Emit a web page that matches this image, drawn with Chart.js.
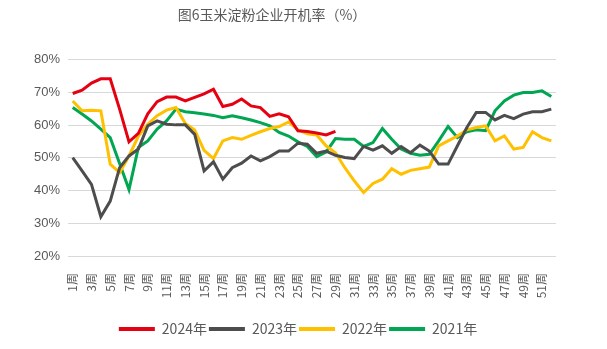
<!DOCTYPE html>
<html><head><meta charset="utf-8">
<script src="https://cdn.jsdelivr.net/npm/chart.js@4/dist/chart.umd.min.js"></script>
<style>html,body{margin:0;padding:0;background:#fff}#wrap{width:607px;height:349px}</style>
</head><body><div id="wrap"><canvas id="c" width="607" height="349"></canvas></div>
<script>
const weeks = Array.from({length:52},(_,i)=>(i+1)+'周');
const s2024 = [69.7,70.7,72.9,74.2,74.2,64.9,54.9,57.5,63.5,67.2,68.6,68.6,67.4,68.5,69.6,71.0,65.7,66.4,68.0,65.9,65.4,62.7,63.5,62.6,58.3,58.1,57.6,57.0,58.1];
const s2023 = [50.1,46.0,41.9,32.0,36.8,47.0,50.6,52.7,59.8,61.3,60.3,60.1,60.1,57.2,46.0,48.8,43.5,47.0,48.4,50.6,49.1,50.4,52.1,52.1,54.5,54.2,51.4,52.1,50.8,50.1,49.8,53.5,52.4,53.7,51.4,53.5,51.6,53.9,52.1,48.1,48.1,53.7,59.3,63.9,63.9,61.6,63.0,62.0,63.4,64.1,64.1,64.9];
const s2022 = [67.4,64.4,64.6,64.4,48.1,45.5,50.6,56.7,60.3,62.9,64.6,65.4,60.5,58.5,52.3,49.8,55.2,56.2,55.7,56.9,58.0,59.0,59.6,61.0,58.6,57.4,57.0,53.7,51.6,47.0,43.0,39.4,42.2,43.5,46.7,45.0,46.2,46.7,47.2,53.7,55.2,56.7,58.6,59.3,59.8,55.2,56.7,52.7,53.2,58.0,56.2,55.2];
const s2021 = [65.4,63.4,61.3,58.8,56.2,48.3,40.3,53.2,55.2,58.8,61.3,64.9,64.1,63.8,63.4,63.0,62.3,62.9,62.3,61.6,60.8,59.8,57.8,56.7,54.9,53.5,50.4,51.8,55.9,55.7,55.7,53.5,54.7,59.0,55.7,52.7,51.4,50.8,51.1,55.2,59.6,56.2,58.0,58.6,58.3,64.4,67.4,69.2,70.0,70.0,70.5,68.8];
const yTicks = [20,30,40,50,60,70,80];
const seriesNames = ['2024年','2023年','2022年','2021年'];
const seriesColors = ['#E50012','#4D4D4D','#FFC000','#00A651'];
const seriesData = [s2024,s2023,s2022,s2021];

const ds = seriesData.map((d,i)=>({label:seriesNames[i],data:d,borderColor:seriesColors[i],backgroundColor:seriesColors[i],borderWidth:3,pointRadius:0,tension:0,fill:false}));

const shiftPlugin = {id:'shift', afterLayout(chart){
  const t = chart.titleBlock; if(t){t.left -= 6; t.right -= 6;}
  const l = chart.legend; if(l){l.left += 20; l.right += 20;}
}};

new Chart(document.getElementById('c'),{
  type:'line',
  data:{labels:weeks,datasets:ds},
  plugins:[shiftPlugin],
  options:{
    responsive:false,animation:false,
    layout:{padding:{left:0,right:51,top:0,bottom:3}},
    plugins:{
      title:{display:true,text:'图6玉米淀粉企业开机率（%）',color:'#595959',font:{size:14,family:'"Noto Sans CJK SC", sans-serif',weight:'normal'},padding:{top:6,bottom:37}},
      legend:{position:'bottom',labels:{boxWidth:36,boxHeight:4,color:'#595959',font:{size:14,family:'"Noto Sans CJK SC", sans-serif'},padding:2,
        generateLabels:function(chart){const items=Chart.defaults.plugins.legend.labels.generateLabels(chart);items.forEach(it=>{it.lineWidth=0;});return items;}}},
      tooltip:{enabled:false}
    },
    scales:{
      x:{offset:true,grid:{display:false},border:{display:false},afterFit:s=>{s.height=64;},
        ticks:{autoSkip:false,maxRotation:90,minRotation:90,color:'#595959',font:{size:12,family:'"Noto Sans CJK SC", sans-serif'},padding:9,
          callback:function(v,i){return i%2===0?weeks[i]:'';}}},
      y:{min:20,max:80,afterBuildTicks:ax=>{ax.ticks=yTicks.map(v=>({value:v}));},afterFit:s=>{s.width=68;},
        grid:{color:'#D9D9D9',drawTicks:false},border:{display:false},
        ticks:{color:'#595959',font:{size:13,family:'"Liberation Sans", sans-serif'},padding:8,callback:v=>v+'%'}}
    }
  }
});
</script></body></html>
